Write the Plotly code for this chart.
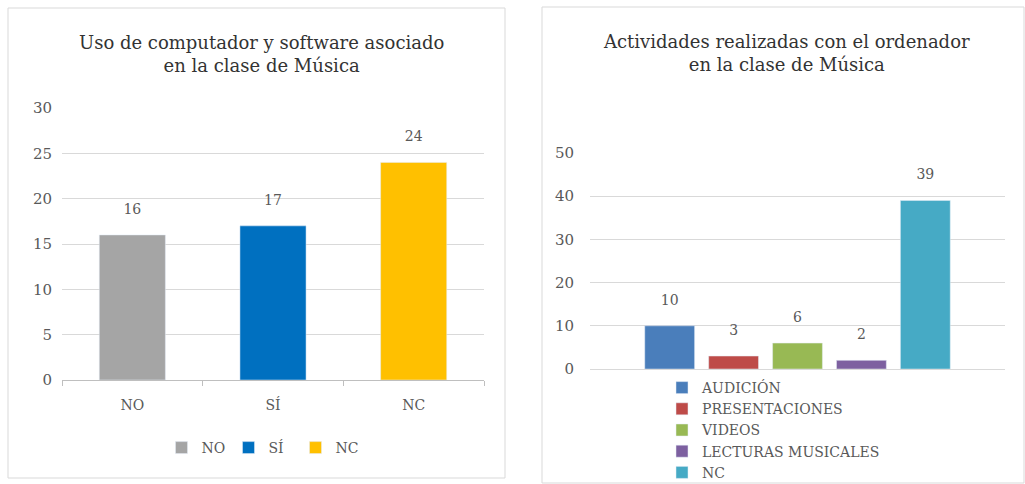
import plotly.graph_objects as go

# Left chart data
left_title = "Uso de computador y software asociado<br>en la clase de Música"
left_cats = ["NO", "SÍ", "NC"]
left_vals = [16, 17, 24]
left_colors = ["#A5A5A5", "#0070C0", "#FFC000"]
left_ticks = [0, 5, 10, 15, 20, 25, 30]

# Right chart data
right_title = "Actividades realizadas con el ordenador<br>en la clase de Música"
right_series = ["AUDICIÓN", "PRESENTACIONES", "VIDEOS", "LECTURAS MUSICALES", "NC"]
right_vals = [10, 3, 6, 2, 39]
right_colors = ["#4A7EBB", "#BE4B48", "#98B954", "#7D60A0", "#46AAC5"]
right_ticks = [0, 10, 20, 30, 40, 50]

FONT = "DejaVu Serif"
GRAY = "#595959"
GRID = "#D9D9D9"
W, H = 1025, 484
LABEL_TMPL = "%{y}<br><span style='font-size:1px'> </span>"

def px_x(p):
    return p / W

def px_y(p):
    return 1 - p / H

fig = go.Figure()

for cat, val, col in zip(left_cats, left_vals, left_colors):
    fig.add_trace(go.Bar(
        x=[cat], y=[val], name=cat, marker_color=col, width=0.47,
        offsetgroup="L", texttemplate=LABEL_TMPL, textposition="outside",
        textfont=dict(family=FONT, size=14, color=GRAY),
        xaxis="x", yaxis="y", legend="legend", cliponaxis=False,
    ))

for name, val, col in zip(right_series, right_vals, right_colors):
    fig.add_trace(go.Bar(
        x=[""], y=[val], name=name, marker_color=col,
        offsetgroup=name, texttemplate=LABEL_TMPL, textposition="outside",
        textfont=dict(family=FONT, size=14, color=GRAY),
        xaxis="x2", yaxis="y2", legend="legend2", cliponaxis=False,
    ))

fig.update_layout(
    width=W, height=H,
    margin=dict(l=0, r=0, t=0, b=0, pad=0, autoexpand=False),
    paper_bgcolor="white", plot_bgcolor="white",
    font=dict(family=FONT, color=GRAY),
    barmode="group", bargap=0.23, bargroupgap=0.22,
    showlegend=True,
    xaxis=dict(domain=[px_x(62), px_x(484)], anchor="y", showgrid=False,
               showline=True, linecolor="#BFBFBF", ticks="outside", tickson="boundaries",
               ticklen=5, tickcolor="#BFBFBF", tickfont=dict(size=14, color=GRAY),
               ticklabelstandoff=12, fixedrange=True),
    yaxis=dict(domain=[px_y(380), px_y(108)], anchor="x", range=[0, 30],
               tickvals=left_ticks, gridcolor=GRID, showline=False, zeroline=False,
               tickfont=dict(size=15, color=GRAY), ticklabelstandoff=9),
    xaxis2=dict(domain=[px_x(590), px_x(1005)], anchor="y2", showgrid=False,
                showline=True, linecolor=GRID, showticklabels=False, ticks=""),
    yaxis2=dict(domain=[px_y(369), px_y(153)], anchor="x2", range=[0, 50],
                tickvals=right_ticks, gridcolor=GRID, showline=False, zeroline=False,
                tickfont=dict(size=15, color=GRAY), ticklabelstandoff=15),
    legend=dict(orientation="h", x=px_x(262), xanchor="center", y=px_y(448), yanchor="middle",
                font=dict(size=14, color=GRAY), itemwidth=30, entrywidth=22,
                entrywidthmode="pixels", bgcolor="rgba(0,0,0,0)"),
    legend2=dict(orientation="v", x=px_x(662), xanchor="left", y=-4 / H, yanchor="bottom",
                 font=dict(size=14, color=GRAY), bgcolor="rgba(0,0,0,0)", tracegroupgap=0,
                 itemwidth=30),
)

fig.add_annotation(text=left_title, x=px_x(261), y=px_y(54), xref="paper", yref="paper",
                   xanchor="center", yanchor="middle", showarrow=False,
                   font=dict(family=FONT, size=18, color="#333333"))
fig.add_annotation(text=right_title, x=px_x(786), y=px_y(53), xref="paper", yref="paper",
                   xanchor="center", yanchor="middle", showarrow=False,
                   font=dict(family=FONT, size=18, color="#333333"))

fig.add_shape(type="rect", xref="paper", yref="paper",
              x0=px_x(8), x1=px_x(505), y0=px_y(478), y1=px_y(8),
              line=dict(color="#D9D9D9", width=1))
fig.add_shape(type="rect", xref="paper", yref="paper",
              x0=px_x(542), x1=px_x(1024), y0=px_y(483), y1=px_y(7),
              line=dict(color="#D9D9D9", width=1))

fig.write_html("out.html", config={"displayModeBar": False},
               post_script="document.body.style.margin='0';document.body.style.overflow='hidden';")
